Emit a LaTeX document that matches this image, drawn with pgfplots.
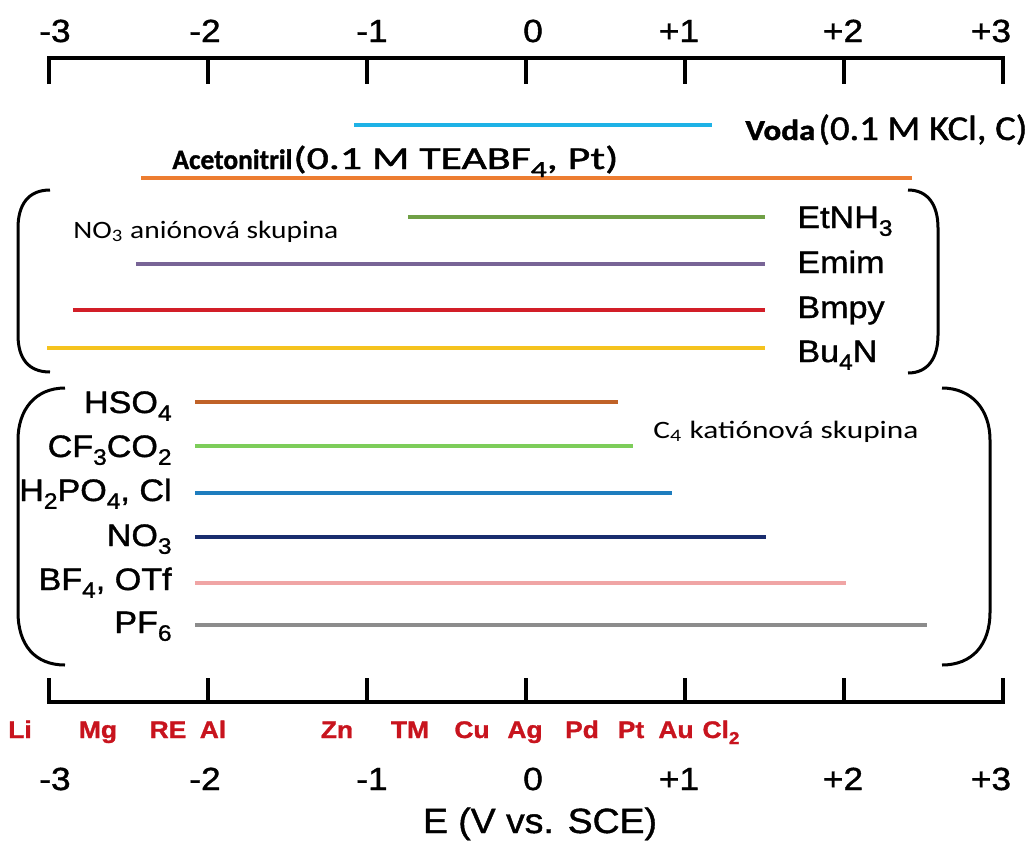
\documentclass[border=0pt]{standalone}
\usepackage{fontspec}
\usepackage{graphicx}
\usepackage{pgfplots}
\pgfplotsset{compat=1.18}
\setmainfont{Liberation Sans}
\newfontfamily\lab{Liberation Sans}[FakeStretch=1.1,FakeBold=1.2]
\newfontfamily\calfont{Carlito}
\newfontfamily\calheavy{Carlito}[FakeBold=1.2]
\newcommand\sub[1]{\raisebox{-0.25em}{\scalebox{0.72}{#1}}}
\definecolor{cVoda}{RGB}{30,178,230}
\definecolor{cAce}{RGB}{237,125,49}
\definecolor{cEt}{RGB}{112,160,70}
\definecolor{cEmim}{RGB}{120,100,150}
\definecolor{cBmpy}{RGB}{210,30,40}
\definecolor{cBu}{RGB}{245,195,30}
\definecolor{cHSO}{RGB}{192,98,40}
\definecolor{cCF}{RGB}{125,205,90}
\definecolor{cHPO}{RGB}{30,125,190}
\definecolor{cNO}{RGB}{25,45,110}
\definecolor{cBF}{RGB}{240,165,165}
\definecolor{cPF}{RGB}{140,140,140}
\definecolor{elred}{RGB}{200,20,30}
\begin{document}
\begin{tikzpicture}
\useasboundingbox (0,0) rectangle (516pt,-420.5pt);
\begin{axis}[
  at={(24.5pt,-420.5pt)}, anchor=south west,
  scale only axis, width=477pt, height=420.5pt,
  xmin=-3, xmax=3, ymin=0, ymax=841, y dir=reverse,
  axis lines=none, clip=false,
  every axis plot/.append style={line width=1.8pt, no marks},
]
% electrochemical windows (E in V vs. SCE); y = row position
\addplot[cVoda] coordinates {(-1.08,125) (1.17,125)};
\addplot[cAce]  coordinates {(-2.42,178) (2.43,178)};
\addplot[cEt]   coordinates {(-0.74,217) (1.50,217)};
\addplot[cEmim] coordinates {(-2.45,264) (1.50,264)};
\addplot[cBmpy] coordinates {(-2.85,310) (1.50,310)};
\addplot[cBu]   coordinates {(-3.01,348) (1.50,348)};
\addplot[cHSO]  coordinates {(-2.08,402) (0.58,402)};
\addplot[cCF]   coordinates {(-2.08,446) (0.67,446)};
\addplot[cHPO]  coordinates {(-2.08,493) (0.92,493)};
\addplot[cNO]   coordinates {(-2.08,537) (1.51,537)};
\addplot[cBF]   coordinates {(-2.08,583) (2.01,583)};
\addplot[cPF]   coordinates {(-2.08,625) (2.52,625)};
% scales
\draw[line width=2pt] (axis cs:-3,84) -- (axis cs:-3,58) -- (axis cs:3,58) -- (axis cs:3,84);
\draw[line width=2pt] (axis cs:-3,678) -- (axis cs:-3,702) -- (axis cs:3,702) -- (axis cs:3,678);
\draw[line width=2pt] (axis cs:-2,58) -- (axis cs:-2,84) (axis cs:-1,58) -- (axis cs:-1,84) (axis cs:0,58) -- (axis cs:0,84) (axis cs:1,58) -- (axis cs:1,84) (axis cs:2,58) -- (axis cs:2,84);
\draw[line width=2pt] (axis cs:-2,678) -- (axis cs:-2,702) (axis cs:-1,678) -- (axis cs:-1,702) (axis cs:0,678) -- (axis cs:0,702) (axis cs:1,678) -- (axis cs:1,702) (axis cs:2,678) -- (axis cs:2,702);
\end{axis}
\begin{scope}[x=0.5pt,y=-0.5pt]
% brackets
\draw[line width=1.5pt] (50,190) .. controls (28,190) and (18,205) .. (18,228) -- (18,335) .. controls (18,358) and (28,372) .. (50,372);
\draw[line width=1.5pt] (908,190) .. controls (928,190) and (938,205) .. (938,228) -- (938,335) .. controls (938,358) and (928,373) .. (908,373);
\draw[line width=1.5pt] (65,388) .. controls (35,388) and (18,410) .. (18,440) -- (18,612) .. controls (18,645) and (35,665) .. (65,665);
\draw[line width=1.5pt] (942,388) .. controls (972,388) and (990,410) .. (990,440) -- (990,612) .. controls (990,645) and (972,665) .. (942,665);
% scale numbers
\foreach \x/\t in {55/-3,205/-2,372/-1,533/0,679/+1,843/+2,991/+3} {
  \node[anchor=base,inner sep=0] at (\x,42) {\lab\fontsize{16pt}{18pt}\selectfont \t};
  \node[anchor=base,inner sep=0] at (\x,790) {\lab\fontsize{16pt}{18pt}\selectfont \t};
}
% element labels
\foreach \x/\t in {20/Li,98/Mg,168/RE,213/Al,337/Zn,410/TM,472/Cu,525/Ag,582/Pd,631/Pt,676/Au,721/{Cl\sub{2}}} {
  \node[anchor=base,inner sep=0,text=elred] at (\x,738) {\lab\bfseries\fontsize{12pt}{13pt}\selectfont \t};
}
% axis title
\node[anchor=base,inner sep=0] at (540,833) {\resizebox{117pt}{\height}{\lab\fontsize{17.5pt}{20pt}\selectfont E (V vs. SCE)}};
% solvent labels
\node[anchor=base west,inner sep=0] at (745,140) {\resizebox{35pt}{\height}{\calheavy\bfseries\fontsize{14.5pt}{16pt}\selectfont Voda}};
\node[anchor=base west,inner sep=0] at (818,140) {\resizebox{104.5pt}{\height}{\calheavy\fontsize{17.5pt}{20pt}\selectfont (0.1 M KCl, C)}};
\node[anchor=base west,inner sep=0] at (172,169) {\resizebox{60pt}{\height}{\calheavy\bfseries\fontsize{14pt}{15pt}\selectfont Acetonitril}};
\node[anchor=base west,inner sep=0] at (293,169) {\resizebox{162.5pt}{\height}{\calheavy\fontsize{16pt}{18pt}\selectfont (0.1 M TEABF\sub{4}, Pt)}};
\node[anchor=base west,inner sep=0] at (73,238) {\resizebox{132.5pt}{\height}{\calfont\fontsize{12.5pt}{14pt}\selectfont NO\textsubscript{3} aniónová skupina}};
\node[anchor=base west,inner sep=0] at (653,438) {\resizebox{132.5pt}{\height}{\calfont\fontsize{12.5pt}{14pt}\selectfont C\textsubscript{4} katiónová skupina}};
% cation labels
\foreach \y/\t in {228/{EtNH\sub{3}},273/Emim,318/Bmpy,362/{Bu\sub{4}N}} {
  \node[anchor=base west,inner sep=0] at (797,\y) {\lab\fontsize{15.5pt}{17pt}\selectfont \t};
}
% anion labels
\foreach \y/\t in {413/{HSO\sub{4}},457/{CF\sub{3}CO\sub{2}},501/{H\sub{2}PO\sub{4}, Cl},546/{NO\sub{3}},590/{BF\sub{4}, OTf},633/{PF\sub{6}}} {
  \node[anchor=base east,inner sep=0] at (172,\y) {\lab\fontsize{15.5pt}{17pt}\selectfont \t};
}
\end{scope}
\end{tikzpicture}
\end{document}
